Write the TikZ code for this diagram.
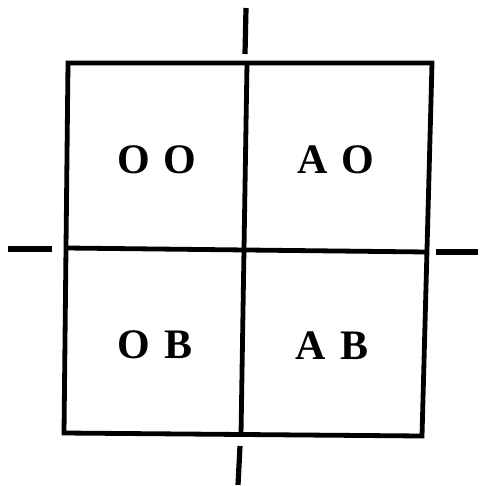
\documentclass[tikz,border=0pt]{standalone}
\usepackage{fontspec}
\setmainfont{Liberation Serif}
\usetikzlibrary{calc}

\begin{document}
\begin{tikzpicture}[
    x=0.5pt, y=-0.5pt,
    frame/.style={line width=2.4pt, line join=miter},
    divider/.style={line width=2.4pt},
    marker/.style={line width=2.6pt},
    cell/.style={font=\fontsize{21}{25}\selectfont\bfseries, inner sep=0pt},
]
\useasboundingbox (0,0) rectangle (479,486);

% --- Corners of the table ---
\coordinate (tl) at (68,63);
\coordinate (tr) at (432,63);
\coordinate (br) at (422,436);
\coordinate (bl) at (64,433);

% --- Ends of the dividers ---
\coordinate (midtop) at (247,63);
\coordinate (midbot) at (241,435);
\coordinate (midleft) at (66,248);
\coordinate (midright) at (427,252);

% --- Outer markers ---
\coordinate (topa) at (246,8);
\coordinate (topb) at (245,54);
\coordinate (bota) at (240,446);
\coordinate (botb) at (238,485);
\coordinate (lefta) at (8,249);
\coordinate (leftb) at (52,249);
\coordinate (righta) at (436,252);
\coordinate (rightb) at (478,252);

% --- Table ---
\draw[frame] (tl) -- (tr) -- (br) -- (bl) -- cycle;
\draw[divider] (midtop) -- (midbot);
\draw[divider] (midleft) -- (midright);

\draw[marker] (topa) -- (topb);
\draw[marker] (bota) -- (botb);
\draw[marker] (lefta) -- (leftb);
\draw[marker] (righta) -- (rightb);

% --- Cells ---
\node[cell] (oo) at (157,160) {O\hspace{7pt}O};
\node[cell] (ao) at (336,160) {A\hspace{7pt}O};
\node[cell] (ob) at (155,345) {O\hspace{7pt}B};
\node[cell] (ab) at (332,346) {A\hspace{7pt}B};

\end{tikzpicture}
\end{document}
